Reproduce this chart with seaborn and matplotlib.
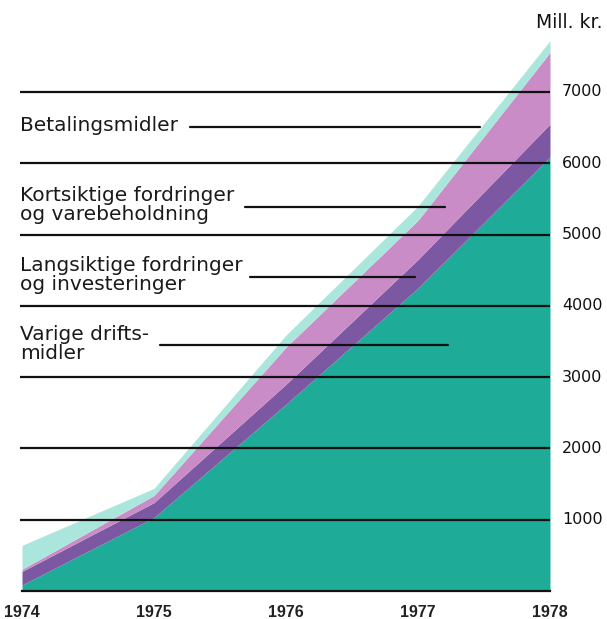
import numpy as np
import pandas as pd
import matplotlib.pyplot as plt
import seaborn as sns

# data (mill. kr.)
years = [1974, 1975, 1976, 1977, 1978]
varige = [85, 1030, 2620, 4250, 6090]
langsiktige = [190, 210, 280, 400, 460]
kortsiktige = [30, 100, 520, 550, 1005]
betaling = [335, 100, 170, 200, 165]
yticks = [1000, 2000, 3000, 4000, 5000, 6000, 7000]

labels = ['Betalingsmidler',
          'Kortsiktige fordringer\nog varebeholdning',
          'Langsiktige fordringer\nog investeringer',
          'Varige drifts-\nmidler']

colors = ['#1eab97', '#7c58a2', '#c98cc6', '#abe6dc']

sns.set_style("white")
plt.rcParams['font.family'] = ['DejaVu Sans']

W, H = 607, 619
fig = plt.figure(figsize=(W / 100, H / 100), dpi=100)
# pixel layout: x 1974 at px 22, 132 px per year; y=0 at px 591, 71.29 px per 1000
ppy = 132.0
ppk = (591 - 92) / 7.0
x0 = 1974 - 2 / ppy
ytop = (591 - 35) / ppk * 1000
ax = fig.add_axes([20 / W, (H - 591) / H, (550 - 20) / W, (591 - 35) / H])
ax.set_xlim(x0, 1978)
ax.set_ylim(0, ytop)


def px(x):
    return 1974 + (x - 22) / ppy


def py(y):
    return (591 - y) / ppk * 1000


ax.stackplot(years, varige, langsiktige, kortsiktige, betaling,
             colors=colors, linewidth=0, zorder=1)

ax.hlines(yticks, x0, 1978, color='#111111', linewidth=1.6, zorder=3)

# right-side value labels
for v in yticks:
    ax.text(1978 + 12 / ppy, v, str(v), ha='left', va='center',
            fontsize=11.5, color='#111111', clip_on=False)
fig.text(602 / W, 1 - 23 / H, 'Mill. kr.', ha='right', va='center',
         fontsize=13.5, color='#111111')

# x axis
for s in ['top', 'left', 'right']:
    ax.spines[s].set_visible(False)
ax.spines['bottom'].set_linewidth(1.6)
ax.spines['bottom'].set_color('#111111')
ax.spines['bottom'].set_bounds(1974, 1978)
ax.set_xticks(years)
ax.set_xticklabels([str(y) for y in years], fontsize=11.5,
                   family='Liberation Sans', fontweight='bold', color='#222222')
ax.tick_params(axis='x', direction='in', length=9, width=1.6,
               color='#111111', pad=10)
ax.set_yticks([])

# labels with leader lines: (text centre y, line y, line x1, line x2) in px
lab_pos = [(126, 127, 190, 480), (205, 207, 245, 445),
           (275, 277, 250, 415), (344, 345, 160, 448)]
for lab, (ty, ly, lx1, lx2) in zip(labels, lab_pos):
    ax.text(px(20), py(ty), lab, ha='left', va='center', fontsize=14.5,
            color='#1a1a1a', linespacing=1.02, clip_on=False)
    ax.plot([px(lx1), px(lx2)], [py(ly), py(ly)], color='#111111',
            linewidth=1.6, zorder=3)

plt.savefig('out.png', dpi=100)
